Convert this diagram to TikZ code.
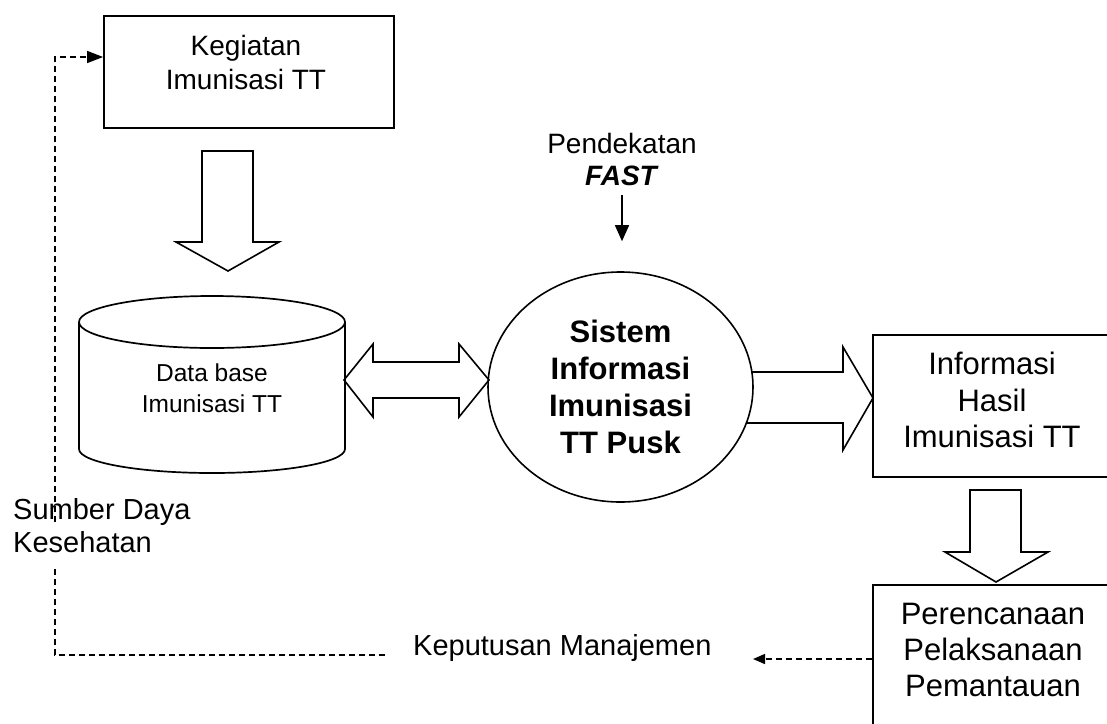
\documentclass[tikz,border=0pt]{standalone}
\usepackage{fontspec}
\setmainfont{Liberation Sans}
\usetikzlibrary{arrows.meta,shapes.geometric,calc}
\begin{document}
\begin{tikzpicture}[x=1pt,y=-1pt,
  box/.style={draw, line width=1.8pt, inner sep=0pt},
  txt/.style={inner sep=0pt, align=center},
  hollow/.style={draw, line width=1.6pt, line join=miter},
  fb/.style={line width=1.4pt, dash pattern=on 6pt off 4pt}]
\useasboundingbox (0,0) rectangle (1107,723);
\fill[white] (0,0) rectangle (1107,723);
\clip (0,0) rectangle (1107,723);

% activity box
\node[box, minimum width=290pt, minimum height=112pt] (keg) at (249,72) {};
\node[txt, font=\fontsize{28}{34}\selectfont] (kegt) at (246,62) {Kegiatan\\Imunisasi TT};

% hollow arrow down to the database
\draw[hollow] (202,151) -- (253,151) -- (253,242) -- (279,242) -- (228,271)
  -- (176,242) -- (202,242) -- cycle;

% database cylinder
\draw[line width=1.7pt] (212,322) ellipse [x radius=133, y radius=26];
\draw[line width=1.7pt] (79,322) -- (79,449)
  .. controls (79,462.3) and (138.5,473) .. (212,473)
  .. controls (285.5,473) and (345,462.3) .. (345,449) -- (345,322);
\node[txt, font=\fontsize{24.5}{31}\selectfont] (db) at (212,388.5) {Data base\\Imunisasi TT};

% two-way hollow arrow
\draw[hollow] (344,380) -- (373,344) -- (373,362) -- (459,362) -- (459,344)
  -- (489,380) -- (459,417) -- (459,398) -- (373,398) -- (373,417) -- cycle;

% hollow arrow to the result box
\draw[hollow] (751,372) -- (843,372) -- (843,347) -- (873,398) -- (843,450)
  -- (843,423) -- (746,423);

% information system
\node[ellipse, draw, line width=1.6pt, minimum width=265pt, minimum height=230pt,
  inner sep=0pt, align=center, font=\bfseries\fontsize{31}{37}\selectfont]
  (sis) at (620.5,387) {Sistem\\Informasi\\Imunisasi\\TT Pusk};

% approach
\node[txt, font=\fontsize{28}{32}\selectfont] (fast) at (622,159)
  {Pendekatan\\\textbf{\textit{FAST}}};
\draw[line width=1.5pt, -{Triangle[length=16pt,width=14pt]},
  shorten <=10pt, shorten >=30pt] (fast.south) -- (fast.south |- sis.north);

% results box
\node[box, minimum width=238pt, minimum height=142pt] (info) at (992,406) {};
\node[txt, font=\fontsize{31}{36.5}\selectfont] (infot) at (992,400)
  {Informasi\\Hasil\\Imunisasi TT};

% hollow arrow down to planning
\draw[hollow] (970,490) -- (1021,490) -- (1021,552) -- (1048,552) -- (996,582)
  -- (945,552) -- (970,552) -- cycle;

% planning box
\node[box, minimum width=238pt, minimum height=190pt] (plan) at (992,680) {};
\node[txt, font=\fontsize{31}{36}\selectfont] (plant) at (993,650)
  {Perencanaan\\Pelaksanaan\\Pemantauan};

% management decision
\node[txt, anchor=base west, font=\fontsize{29}{34}\selectfont] (kep) at (413,655)
  {Keputusan Manajemen};
\coordinate (kepin) at (753,659);
\draw[fb, -{Triangle[length=12pt,width=10pt]}] (plan.west |- kepin) -- (kepin);

% resources label
\node[txt, align=left, anchor=west, font=\fontsize{29}{33}\selectfont] (sdk) at (13,526)
  {Sumber Daya\\Kesehatan};

% feedback loop back to the activity box
\coordinate (fbstart) at (385,655);
\coordinate (fbcorner) at (55,655);
\coordinate (gaplow) at (55,567);
\coordinate (gaphigh) at (55,522);
\coordinate (fbtop) at (55,57);
\draw[fb, -{Triangle[length=16pt,width=12pt]}] (fbstart) -- (fbcorner) -- (gaplow)
  (gaphigh) -- (fbtop) -- (keg.west |- fbtop);
\end{tikzpicture}
\end{document}
